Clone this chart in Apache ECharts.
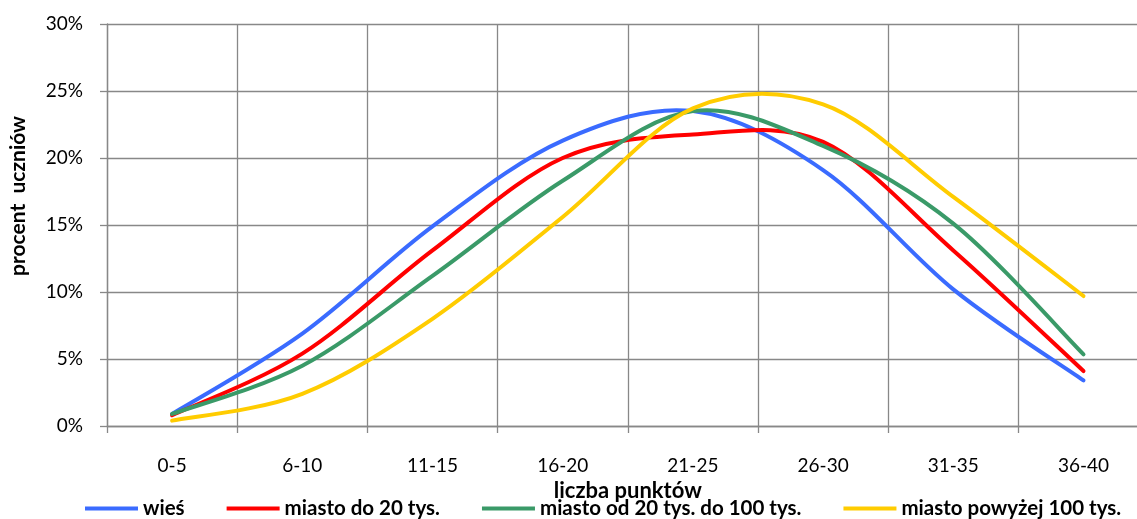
<!DOCTYPE html>
<html>
<head>
<meta charset="utf-8">
<script src="https://cdn.jsdelivr.net/npm/echarts@6/dist/echarts.min.js"></script>
<style>
  html, body { margin: 0; padding: 0; background: #fff; }
  #chart { width: 1137px; height: 519px; }
</style>
</head>
<body>
<div id="chart"></div>
<script>
// Score bands (x axis)
const categories = ['0-5', '6-10', '11-15', '16-20', '21-25', '26-30', '31-35', '36-40'];

// Share of pupils (%) per score band, by place of residence
const wies          = [0.9, 6.9, 14.9, 21.3, 23.5, 19.1, 10.2, 3.4];
const miastoDo20    = [0.8, 5.4, 13.1, 20.0, 21.75, 21.2, 13.1, 4.1];
const miasto20do100 = [0.9, 4.5, 11.2, 18.3, 23.5, 20.9, 15.1, 5.35];
const miastoPow100  = [0.4, 2.4, 8.0, 15.6, 23.7, 24.0, 17.1, 9.7];

const seriesNames = ['wieś', 'miasto do 20 tys.', 'miasto od 20 tys. do 100 tys.', 'miasto powyżej 100 tys.'];
const seriesColors = ['#3a6bff', '#ff0000', '#3a9a68', '#ffcc00'];
const seriesData = [wies, miastoDo20, miasto20do100, miastoPow100];

const FONT = 'Lato, "Open Sans", sans-serif';
const GRID_COLOR = '#888888';

// Smooth curve through every data point (cardinal spline, converted to cubic Bezier
// segments). Points are mapped to pixels by the chart's own axes via api.coord.
function smoothPath(pts) {
  let d = 'M' + pts[0][0] + ' ' + pts[0][1];
  for (let i = 0; i < pts.length - 1; i++) {
    const p0 = pts[Math.max(i - 1, 0)];
    const p1 = pts[i];
    const p2 = pts[i + 1];
    const p3 = pts[Math.min(i + 2, pts.length - 1)];
    const c1x = p1[0] + (p2[0] - p0[0]) / 6;
    const c1y = p1[1] + (p2[1] - p0[1]) / 6;
    const c2x = p2[0] - (p3[0] - p1[0]) / 6;
    const c2y = p2[1] - (p3[1] - p1[1]) / 6;
    d += ' C' + c1x + ' ' + c1y + ' ' + c2x + ' ' + c2y + ' ' + p2[0] + ' ' + p2[1];
  }
  return d;
}

function makeSeries(values, idx) {
  const color = seriesColors[idx];
  return {
    name: seriesNames[idx],
    type: 'custom',
    coordinateSystem: 'cartesian2d',
    data: values.map((v, i) => [i, v]),
    encode: { x: 0, y: 1 },
    itemStyle: { color: color },
    clip: false,
    silent: true,
    renderItem: function (params, api) {
      if (params.dataIndex !== 0) return null;
      const pts = values.map((v, i) => api.coord([i, v]));
      return {
        type: 'path',
        shape: { pathData: smoothPath(pts) },
        style: { fill: 'none', stroke: color, lineWidth: 4, lineCap: 'round', lineJoin: 'round' }
      };
    }
  };
}

const chart = echarts.init(document.getElementById('chart'), null, { renderer: 'canvas' });

chart.setOption({
  animation: false,
  backgroundColor: '#ffffff',
  textStyle: { fontFamily: FONT },
  // the plot runs a little past the right edge of the canvas
  grid: { left: 107, width: 1041.6, top: 24, bottom: 93, containLabel: false, outerBoundsMode: 'none' },
  legend: {
    top: 498,
    left: 85,
    width: 1050,
    padding: 0,
    icon: 'rect',
    itemWidth: 53,
    itemHeight: 4,
    itemGap: 42,
    textStyle: { fontFamily: FONT, fontSize: 20.5, fontWeight: 'bold', color: '#000' },
    data: seriesNames
  },
  xAxis: {
    type: 'category',
    data: categories,
    boundaryGap: true,
    name: 'liczba punktów',
    nameLocation: 'middle',
    nameGap: 43,
    nameTextStyle: { fontFamily: FONT, fontSize: 22, fontWeight: 'bold', color: '#000' },
    axisLine: { lineStyle: { color: GRID_COLOR, width: 1.3 } },
    axisTick: { show: true, length: 7, lineStyle: { color: GRID_COLOR, width: 1.3 } },
    axisLabel: { fontFamily: FONT, fontSize: 19, color: '#000', margin: 30 },
    splitLine: { show: true, lineStyle: { color: GRID_COLOR, width: 1.3 } }
  },
  yAxis: {
    type: 'value',
    min: 0,
    max: 30,
    interval: 5,
    axisLine: { show: true, lineStyle: { color: GRID_COLOR, width: 1.3 } },
    axisTick: { show: true, length: 7, lineStyle: { color: GRID_COLOR, width: 1.3 } },
    axisLabel: { fontFamily: FONT, fontSize: 19, color: '#000', margin: 24, formatter: '{value}%' },
    splitLine: { show: true, lineStyle: { color: GRID_COLOR, width: 1.3 } }
  },
  graphic: [{
    type: 'text',
    x: 18,
    y: 196,
    rotation: Math.PI / 2,
    style: {
      text: 'procent  uczniów',
      font: 'bold 21px ' + FONT,
      fill: '#000',
      textAlign: 'center',
      textVerticalAlign: 'middle'
    }
  }],
  series: seriesData.map((d, i) => makeSeries(d, i))
});
</script>
</body>
</html>
